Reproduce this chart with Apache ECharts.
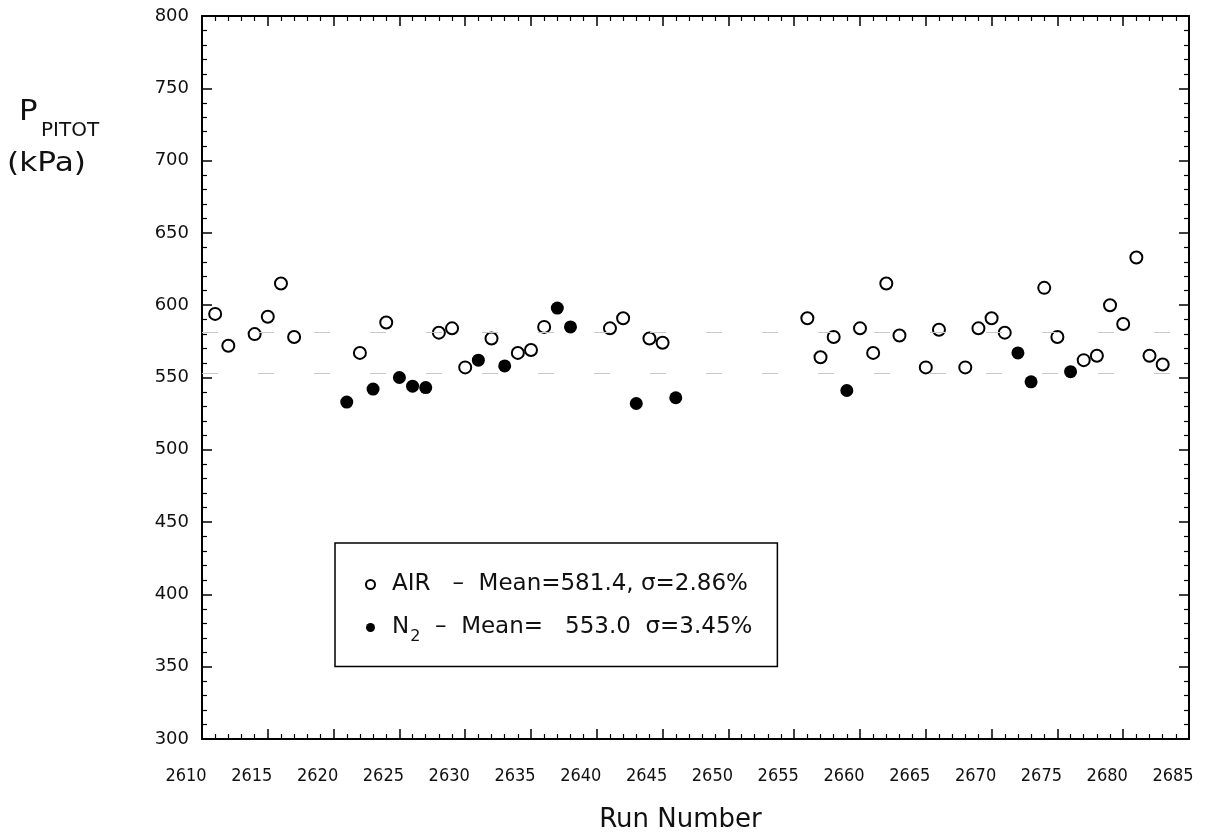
<!DOCTYPE html>
<html>
<head>
<meta charset="utf-8">
<title>P pitot vs run number</title>
<script src="https://cdn.jsdelivr.net/npm/echarts@6/dist/echarts.min.js"></script>
<style>
  html, body { margin: 0; padding: 0; background: #fff; }
  #chart { width: 1220px; height: 838px; }
</style>
</head>
<body>
<div id="chart"></div>
<script>
// 数据：值
var airRuns = [2611, 2612, 2614, 2615, 2616, 2617, 2622, 2624, 2628, 2629, 2630, 2632, 2634, 2635, 2636,
  2641, 2642, 2644, 2645, 2656, 2657, 2658, 2660, 2661, 2662, 2663, 2665, 2666, 2668, 2669, 2670, 2671,
  2674, 2675, 2677, 2678, 2679, 2680, 2681, 2682, 2683];
var airValues = [594, 572, 580, 592, 615, 578, 567, 588, 581, 584, 557, 577, 567, 569, 585,
  584, 591, 577, 574, 591, 564, 578, 584, 567, 615, 579, 557, 583, 557, 584, 591, 581,
  612, 578, 562, 565, 600, 587, 633, 565, 559];
var n2Runs = [2621, 2623, 2625, 2626, 2627, 2631, 2633, 2637, 2638, 2643, 2646, 2659, 2672, 2673, 2676];
var n2Values = [533, 542, 550, 544, 543, 562, 558, 598, 585, 532, 536, 541, 567, 547, 554];
var means = [581.4, 553.0];
var legendLabels = {
  'AIR': '{f|AIR}{t|   –  Mean=581.4, σ=2.86%}',
  'N2': '{f|N}{s|2}{t|  –  Mean=   553.0  σ=3.45%}'
};

function pairs(xs, ys) {
  var out = [];
  for (var i = 0; i < xs.length; i++) {
    out.push([xs[i], ys[i]]);
  }
  return out;
}

var chart = echarts.init(document.getElementById('chart'));

var lineStyle = { color: '#000', width: 2 };
var tickInside = { show: true, inside: true, length: 10, lineStyle: { color: '#000', width: 1.5 } };
var minorInside = { show: true, splitNumber: 5, length: 5, lineStyle: { color: '#000', width: 1.2 } };

var option = {
  backgroundColor: '#fff',
  animation: false,
  grid: { left: 202, top: 16, right: 31, bottom: 96 },
  xAxis: [{
    type: 'value', min: 2610, max: 2685, interval: 5,
    axisLine: { show: true, lineStyle: lineStyle },
    axisTick: tickInside,
    minorTick: minorInside,
    splitLine: { show: false },
    axisLabel: {
      margin: 28, color: '#111', fontSize: 18, fontFamily: 'DejaVu Sans Condensed',
      padding: [0, 32, 0, 0],
      formatter: function (v) { return String(v); }
    },
    name: 'Run Number',
    nameLocation: 'middle',
    nameGap: 68,
    nameTextStyle: { color: '#111', fontSize: 26, fontFamily: 'DejaVu Sans', padding: [0, 30, 0, 0] }
  }, {
    type: 'value', min: 2610, max: 2685, interval: 5, position: 'top',
    axisLine: { show: true, lineStyle: lineStyle },
    axisTick: tickInside,
    minorTick: minorInside,
    splitLine: { show: false },
    axisLabel: { show: false }
  }],
  yAxis: [{
    type: 'value', min: 300, max: 800, interval: 50,
    axisLine: { show: true, lineStyle: lineStyle },
    axisTick: tickInside,
    minorTick: minorInside,
    splitLine: { show: false },
    axisLabel: { margin: 13, color: '#111', fontSize: 18, fontFamily: 'DejaVu Sans' }
  }, {
    type: 'value', min: 300, max: 800, interval: 50, position: 'right',
    axisLine: { show: true, lineStyle: lineStyle },
    axisTick: tickInside,
    minorTick: minorInside,
    splitLine: { show: false },
    axisLabel: { show: false }
  }],
  legend: {
    orient: 'vertical',
    left: 335,
    top: 543,
    data: ['AIR', 'N2'],
    backgroundColor: '#fff',
    borderColor: '#000',
    borderWidth: 1.5,
    padding: [30, 25, 22, 30],
    itemGap: 20,
    itemWidth: 9,
    itemHeight: 9,
    formatter: function (name) { return legendLabels[name]; },
    textStyle: {
      color: '#111',
      rich: {
        f: { fontSize: 23, fontFamily: 'DejaVu Sans', color: '#111', padding: [0, 0, 0, 12] },
        t: { fontSize: 23, fontFamily: 'DejaVu Sans', color: '#111' },
        s: { fontSize: 16, fontFamily: 'DejaVu Sans', color: '#111', padding: [18, 0, 0, 1] }
      }
    }
  },
  graphic: [
    { type: 'text', left: 19, top: 99, scaleX: 1.1, style: { text: 'P', fontSize: 28, fontFamily: 'DejaVu Sans', fill: '#111' } },
    { type: 'text', left: 41, top: 121, style: { text: 'PITOT', fontSize: 20, fontFamily: 'DejaVu Sans', fill: '#111' } },
    { type: 'text', left: 7, top: 151, scaleX: 1.2, style: { text: '(kPa)', fontSize: 26, fontFamily: 'DejaVu Sans', fill: '#111' } }
  ],
  series: [{
    name: 'AIR',
    type: 'scatter',
    data: pairs(airRuns, airValues),
    symbol: 'circle',
    symbolSize: 12,
    itemStyle: { color: '#fff', borderColor: '#000', borderWidth: 2, opacity: 1 },
    z: 3,
    markLine: {
      silent: true,
      symbol: 'none',
      label: { show: false },
      lineStyle: { color: '#c8c8c8', width: 1, type: [16, 40] },
      data: [{ yAxis: means[0] }, { yAxis: means[1] }]
    }
  }, {
    name: 'N2',
    type: 'scatter',
    data: pairs(n2Runs, n2Values),
    symbol: 'circle',
    symbolSize: 13,
    itemStyle: { color: '#000', opacity: 1 },
    z: 4
  }]
};

chart.setOption(option);
</script>
</body>
</html>
